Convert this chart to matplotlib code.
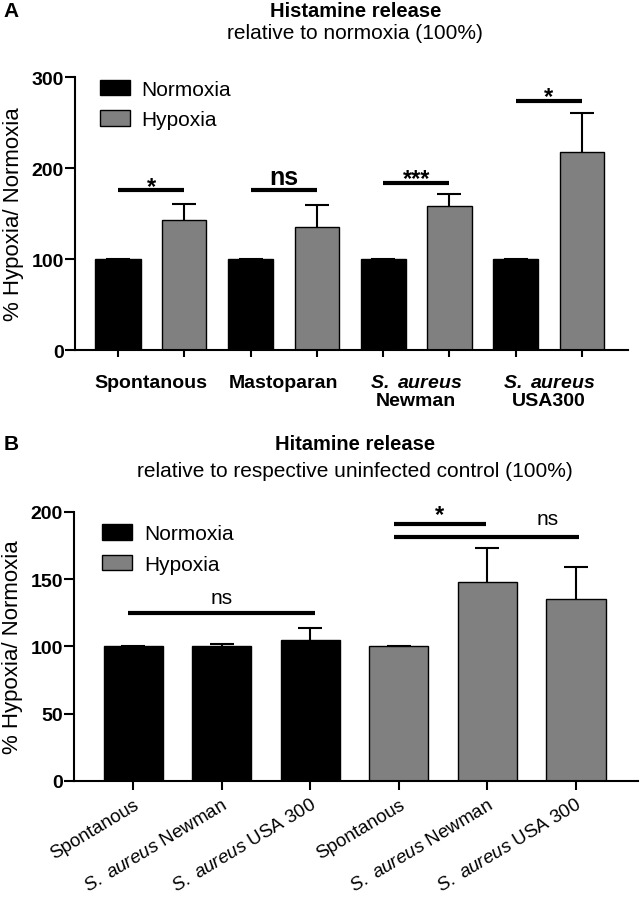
import numpy as np
import matplotlib
matplotlib.use('Agg')
import matplotlib.pyplot as plt
from matplotlib.patches import Patch

plt.rcParams['font.family'] = ['Liberation Sans', 'DejaVu Sans']
plt.rcParams['mathtext.fontset'] = 'custom'
plt.rcParams['mathtext.rm'] = 'Liberation Sans'
plt.rcParams['mathtext.it'] = 'Liberation Sans:italic'
plt.rcParams['mathtext.bf'] = 'Liberation Sans:bold'
plt.rcParams['mathtext.bfit'] = 'Liberation Sans:italic:bold'

# panel A data
a_groups = ['Spontanous', 'Mastoparan',
            r'$\mathbfit{S.\ aureus}$' + '\nNewman',
            r'$\mathbfit{S.\ aureus}$' + '\nUSA300']
a_normoxia = [100, 100, 100, 100]
a_normoxia_err = [0, 0, 0, 0]
a_hypoxia = [143, 135, 158, 218]
a_hypoxia_err = [17, 24, 13, 42]
a_sig_text = ['*', 'ns', '***', '*']
a_sig_y = [176, 176, 184, 274]

# panel B data
b_labels = ['Spontanous', r'$\mathit{S.\ aureus}$ Newman', r'$\mathit{S.\ aureus}$ USA 300',
            'Spontanous', r'$\mathit{S.\ aureus}$ Newman', r'$\mathit{S.\ aureus}$ USA 300']
b_normoxia = [100, 100, 105]
b_normoxia_err = [0, 2, 9]
b_hypoxia = [100, 148, 135]
b_hypoxia_err = [0, 25, 24]

GRAY = '#808080'


def style_axes(ax, xtick_len):
    for s in ['top', 'right']:
        ax.spines[s].set_visible(False)
    for s in ['left', 'bottom']:
        ax.spines[s].set_linewidth(1.5)
    ax.tick_params(axis='y', length=7, width=1.5, labelsize=14, pad=1)
    ax.tick_params(axis='x', which='major', length=xtick_len, width=1.5)
    for lab in ax.get_yticklabels():
        lab.set_fontweight('bold')
    ax.set_ylabel('% Hypoxia/ Normoxia', fontsize=16, labelpad=5)


def bars_with_err(ax, x, vals, errs, color, width):
    ax.bar(x, vals, width=width, color=color, edgecolor='black', linewidth=1.0, zorder=2)
    lower = np.zeros(len(errs))
    eb = ax.errorbar(x, vals, yerr=[lower, errs], fmt='none', ecolor='black',
                     elinewidth=1.5, capsize=8.5, capthick=1.5, zorder=1)
    eb[1][0].set_visible(False)


def add_legend(ax, anchor):
    handles = [Patch(facecolor='black', edgecolor='black', label='Normoxia'),
               Patch(facecolor=GRAY, edgecolor='black', label='Hypoxia')]
    ax.legend(handles=handles, loc='upper left', bbox_to_anchor=anchor, frameon=False,
              fontsize=15, handlelength=1.45, handleheight=0.78, handletextpad=0.55,
              labelspacing=0.55, borderpad=0, borderaxespad=0)


fig = plt.figure(figsize=(6.4, 9.04), dpi=100)

# ---------- panel A ----------
axA = fig.add_axes([0.117, 0.6117, 0.864, 0.302])
pos = np.arange(len(a_groups))
norm_x = pos * 2
hyp_x = pos * 2 + 1
bars_with_err(axA, norm_x, a_normoxia, a_normoxia_err, 'black', 0.68)
bars_with_err(axA, hyp_x, a_hypoxia, a_hypoxia_err, GRAY, 0.67)

for i, txt in enumerate(a_sig_text):
    axA.plot([norm_x[i], hyp_x[i]], [a_sig_y[i], a_sig_y[i]], color='black', lw=3,
             solid_capstyle='butt')
    if txt == 'ns':
        axA.text((norm_x[i] + hyp_x[i]) / 2, a_sig_y[i] + 6, txt, ha='center', va='baseline',
                 fontsize=18, fontweight='bold')
    else:
        axA.text((norm_x[i] + hyp_x[i]) / 2, a_sig_y[i] - 3, txt, ha='center', va='baseline',
                 fontsize=17, fontweight='bold')

axA.set_xlim(-0.65, 7.69)
axA.set_ylim(0, 300)
axA.set_yticks([0, 100, 200, 300])
axA.set_xticks(np.concatenate([norm_x, hyp_x]))
axA.set_xticklabels([])
axA.set_xticks((norm_x + hyp_x) / 2, minor=True)
axA.set_xticklabels(a_groups, minor=True, fontsize=14, fontweight='bold', va='top',
                    linespacing=1.1)
axA.tick_params(axis='x', which='minor', length=0, pad=17)
style_axes(axA, 5)
add_legend(axA, (0.045, 0.99))

fig.text(0.555, 0.987, 'Histamine release', ha='center', va='center', fontsize=14.5,
         fontweight='bold')
fig.text(0.555, 0.963, 'relative to normoxia (100%)', ha='center', va='center', fontsize=15)
fig.text(0.005, 0.987, 'A', ha='left', va='center', fontsize=15, fontweight='bold')

# ---------- panel B ----------
axB = fig.add_axes([0.1156, 0.135, 0.881, 0.2976])
bx = np.arange(len(b_labels))
bars_with_err(axB, bx[:3], b_normoxia, b_normoxia_err, 'black', 0.67)
bars_with_err(axB, bx[3:], b_hypoxia, b_hypoxia_err, GRAY, 0.67)

# significance brackets
axB.plot([-0.06, 2.05], [125, 125], color='black', lw=3, solid_capstyle='butt')
axB.text(1.0, 136.5, 'ns', ha='center', va='center', fontsize=15)
axB.plot([2.95, 3.99], [191.3, 191.3], color='black', lw=3, solid_capstyle='butt')
axB.text(3.46, 193, '*', ha='center', va='baseline', fontsize=17, fontweight='bold')
axB.plot([2.95, 5.03], [181.6, 181.6], color='black', lw=3, solid_capstyle='butt')
axB.text(4.68, 195, 'ns', ha='center', va='center', fontsize=15)

axB.set_xlim(-0.67, 5.70)
axB.set_ylim(0, 200)
axB.set_yticks([0, 50, 100, 150, 200])
axB.set_xticks(bx)
axB.set_xticklabels(b_labels, rotation=31, ha='right', rotation_mode='anchor',
                    fontsize=13.5)
axB.tick_params(axis='x', which='major', pad=4)
style_axes(axB, 6.5)
add_legend(axB, (0.05, 0.955))

fig.text(0.555, 0.508, 'Hitamine release', ha='center', va='center', fontsize=14.5,
         fontweight='bold')
fig.text(0.555, 0.478, 'relative to respective uninfected control (100%)', ha='center',
         va='center', fontsize=15)
fig.text(0.005, 0.508, 'B', ha='left', va='center', fontsize=15, fontweight='bold')

fig.savefig('out.png', dpi=100)
